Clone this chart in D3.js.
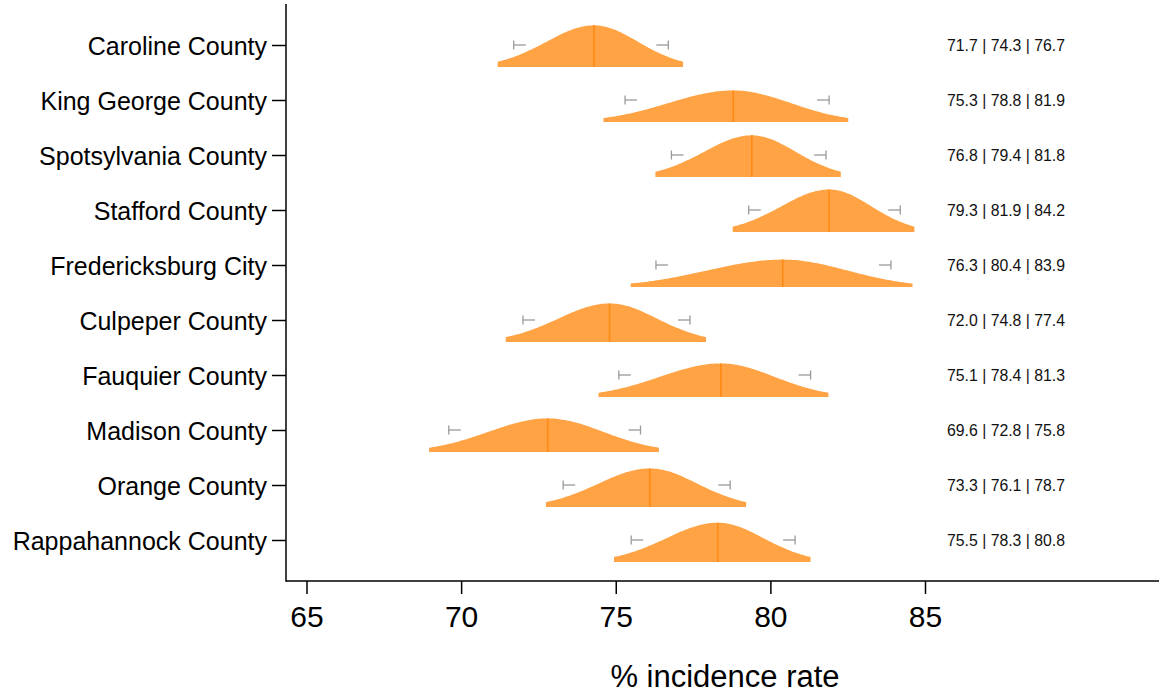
<!DOCTYPE html>
<html>
<head>
<meta charset="utf-8">
<script src="https://cdn.jsdelivr.net/npm/d3@7"></script>
<style>
  html, body { margin: 0; padding: 0; background: #fff; }
  svg { display: block; font-family: "Liberation Sans", Arial, sans-serif; }
</style>
</head>
<body>
<svg id="chart" width="1159" height="695"></svg>
<script>
// ---- data ----
const counties = ["Caroline County", "King George County", "Spotsylvania County", "Stafford County",
  "Fredericksburg City", "Culpeper County", "Fauquier County", "Madison County", "Orange County",
  "Rappahannock County"];
const lower  = [71.7, 75.3, 76.8, 79.3, 76.3, 72.0, 75.1, 69.6, 73.3, 75.5];
const median = [74.3, 78.8, 79.4, 81.9, 80.4, 74.8, 78.4, 72.8, 76.1, 78.3];
const upper  = [76.7, 81.9, 81.8, 84.2, 83.9, 77.4, 81.3, 75.8, 78.7, 80.8];
const xTicks = [65, 70, 75, 80, 85];
const xTitle = "% incidence rate";

// ---- layout ----
const svg = d3.select("#chart");
const axisLeftX = 286, axisBottomY = 581, axisTopY = 4, axisRightX = 1159;

const x = d3.scaleLinear().domain([65, 85]).range([306.5, 925]);
const y = d3.scalePoint().domain(counties).range([45, 540]);

// density model: split normal (widened), truncated at +/- zMax of the CI-based sd
const zMax = 2.35, widen = 1.16;
const rows = counties.map((c, i) => {
  const sdL = (median[i] - lower[i]) / 1.96, sdR = (upper[i] - median[i]) / 1.96;
  const sL = sdL * widen, sR = sdR * widen;
  const peak = 2 / ((sL + sR) * Math.sqrt(2 * Math.PI));
  const lo = median[i] - zMax * sdL, hi = median[i] + zMax * sdR;
  const pts = d3.range(0, 121).map(k => {
    const v = lo + (hi - lo) * k / 120;
    const s = v < median[i] ? sL : sR;
    return [v, peak * Math.exp(-0.5 * ((v - median[i]) / s) ** 2)];
  });
  return {county: c, lo, hi, med: median[i], l: lower[i], u: upper[i], peak, pts};
});

const maxPeak = d3.max(rows, r => r.peak);
const h = d3.scaleLinear().domain([0, maxPeak]).range([0, 42.5]);
const baseOff = 22;

const g = svg.append("g");
rows.forEach(r => {
  const base = y(r.county) + baseOff;
  const area = d3.area()
    .x(d => x(d[0]))
    .y0(base)
    .y1(d => base - h(d[1]))
    .curve(d3.curveBasis);
  g.append("path").attr("d", area(r.pts)).attr("fill", "#ffa344");
  // median line
  g.append("line")
    .attr("x1", x(r.med)).attr("x2", x(r.med))
    .attr("y1", base).attr("y2", base - h(r.peak))
    .attr("stroke", "#ff8a14").attr("stroke-width", 1.6);
  // whiskers
  const wy = y(r.county);
  const wc = "#9a9a9a";
  g.append("line").attr("x1", x(r.l)).attr("x2", x(r.l) + 12).attr("y1", wy).attr("y2", wy)
    .attr("stroke", wc).attr("stroke-width", 1.3);
  g.append("line").attr("x1", x(r.l)).attr("x2", x(r.l)).attr("y1", wy - 4.5).attr("y2", wy + 4.5)
    .attr("stroke", wc).attr("stroke-width", 1.3);
  g.append("line").attr("x1", x(r.u) - 12).attr("x2", x(r.u)).attr("y1", wy).attr("y2", wy)
    .attr("stroke", wc).attr("stroke-width", 1.3);
  g.append("line").attr("x1", x(r.u)).attr("x2", x(r.u)).attr("y1", wy - 4.5).attr("y2", wy + 4.5)
    .attr("stroke", wc).attr("stroke-width", 1.3);
  // value text
  svg.append("text")
    .attr("x", 947).attr("y", wy).attr("dy", "0.36em")
    .attr("font-size", 15.8).attr("fill", "#111")
    .text(`${r.l.toFixed(1)} | ${r.med.toFixed(1)} | ${r.u.toFixed(1)}`);
});

// ---- axes ----
const xAxis = d3.axisBottom(x).tickValues(xTicks).tickSize(13).tickPadding(12).tickSizeOuter(0);
const gx = svg.append("g").attr("transform", `translate(0,${axisBottomY})`).call(xAxis);
gx.select(".domain").remove();
gx.selectAll(".tick line").attr("stroke", "#000").attr("stroke-width", 1.5);
gx.selectAll(".tick text").attr("font-size", 30).attr("fill", "#000")
  .attr("font-family", "'Liberation Sans', Arial, sans-serif");

const yAxis = d3.axisLeft(y).tickSize(14).tickPadding(5).tickSizeOuter(0);
const gy = svg.append("g").attr("transform", `translate(${axisLeftX},0)`).call(yAxis);
gy.select(".domain").remove();
gy.selectAll(".tick line").attr("stroke", "#000").attr("stroke-width", 1.5);
gy.selectAll(".tick text").attr("font-size", 25).attr("fill", "#000").attr("dy", "0.37em")
  .attr("font-family", "'Liberation Sans', Arial, sans-serif");

svg.append("line").attr("x1", axisLeftX).attr("x2", axisLeftX)
  .attr("y1", axisTopY).attr("y2", axisBottomY + 0.75)
  .attr("stroke", "#000").attr("stroke-width", 1.5);
svg.append("line").attr("x1", axisLeftX).attr("x2", axisRightX)
  .attr("y1", axisBottomY).attr("y2", axisBottomY)
  .attr("stroke", "#000").attr("stroke-width", 1.5);

svg.append("text")
  .attr("x", 725).attr("y", 687)
  .attr("text-anchor", "middle").attr("font-size", 31).attr("fill", "#000")
  .text(xTitle);
</script>
</body>
</html>
